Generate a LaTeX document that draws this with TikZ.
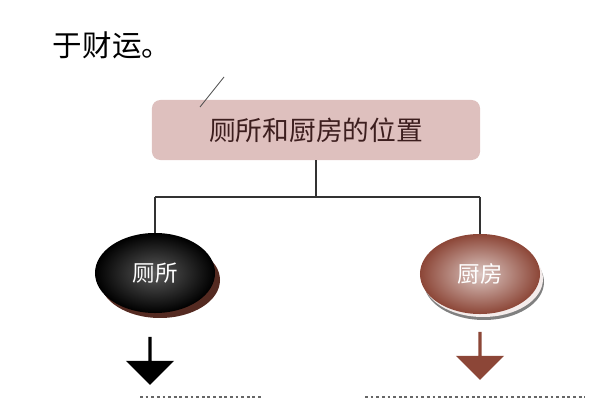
\documentclass[tikz,border=0pt]{standalone}
\usepackage{fontspec}
\setmainfont{Noto Sans CJK SC}
\usetikzlibrary{shapes.geometric, shapes.arrows, arrows.meta, positioning, calc}
\definecolor{boxpink}{RGB}{222, 192, 190}
\definecolor{boxtext}{RGB}{60, 30, 30}
\definecolor{kitchenbrown}{RGB}{140, 70, 55}

\begin{document}
\begin{tikzpicture}[x=0.025cm, y=-0.025cm,
    topic/.style={rectangle, rounded corners=6pt, fill=boxpink, minimum width=8.2cm, minimum height=1.5cm, text=boxtext, font=\fontsize{19}{21}\selectfont},
    room/.style={ellipse, minimum width=3cm, minimum height=2cm, text=white, font=\fontsize{16}{18}\selectfont},
    link/.style={draw=black!80, line width=0.8pt},
    downarrow/.style={single arrow, shape border rotate=270, minimum height=1.2cm, minimum width=1.2cm, single arrow head extend=0.1cm, inner sep=0pt}
]
\useasboundingbox (0,0) rectangle (600,400);

% Caption text
\node[anchor=west, font=\fontsize{21}{23}\selectfont] (cap) at (48,45) {于财运。};

% Topic box
\node[topic] (T) at (316,130) {厕所和厨房的位置};
\draw[black!70, line width=0.6pt] (200,107) -- (224,77);

% Rooms
\fill[kitchenbrown!60!black] (160,280) ellipse (60 and 38);
\node[room, shading=radial, inner color=black!65, outer color=black] (WC) at (155,273) {厕所};
\fill[black!50] (484,282) ellipse (60 and 38);
\fill[white!90!kitchenbrown] (483,279) ellipse (60 and 38);
\node[room, shading=radial, inner color=kitchenbrown!30, outer color=kitchenbrown] (KT) at (480,274) {厨房};

% Connectors
\coordinate (split) at (316,197);
\draw[link] (T.south) -- (split);
\draw[link] (split -| WC) -- (split -| KT);
\draw[link] (split -| WC) -- (WC.north);
\draw[link] (split -| KT) -- (KT.north);

% Arrows
\node[downarrow, fill=black] (a1) at (150,360) {};
\node[downarrow, fill=kitchenbrown] (a2) at (480,355) {};

% Cut-off boxes
\draw[black!60, line width=2pt, dotted] (140,397) -- (262,397);
\draw[black!60, line width=2pt, dotted] (365,397) -- (585,397);
\end{tikzpicture}
\end{document}
